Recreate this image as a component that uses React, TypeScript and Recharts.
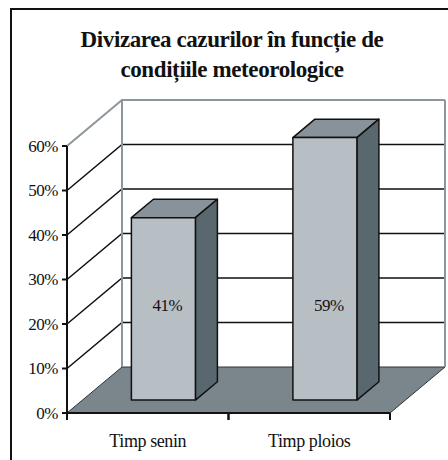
import { BarChart, Bar, XAxis, YAxis, CartesianGrid } from 'recharts';

// date
const categories = ['Timp senin', 'Timp ploios'];
const shares = [0.41, 0.59];
const percentTicks = [0, 0.1, 0.2, 0.3, 0.4, 0.5, 0.6];
const titleLines = ['Divizarea cazurilor în funcție de', 'condițiile meteorologice'];

const data = categories.map((name, i) => ({ name, value: shares[i] }));

const FONT = 'Liberation Serif';
// vectorul de adancime al "cutiei" 3D
const DX = 55;
const DY = -46;
const BAR_FRONT = 0.28;
const BAR_DEPTH = 0.4;

const INK = '#111';
const FACE = '#b7bec4';
const TOP = '#87929a';
const SIDE = '#59686e';
const FLOOR = '#7a868c';
const WALL_EDGE = '#8c979d';

const pct = (v: number) => `${Math.round(v * 100)}%`;

function GridLine(props: any) {
  const { x1, y1, x2, horizontalPoints } = props;
  const top = props.y ?? Math.min(...horizontalPoints);
  const bottom = props.height != null ? props.y + props.height : Math.max(...horizontalPoints);

  if (Math.abs(y1 - bottom) < 0.5) {
    return (
      <polygon
        points={`${x1},${y1} ${x2},${y1} ${x2 + DX},${y1 + DY} ${x1 + DX},${y1 + DY}`}
        fill={FLOOR}
        stroke="#2f3538"
        strokeWidth={1}
      />
    );
  }
  const isTop = Math.abs(y1 - top) < 0.5;
  const color = isTop ? WALL_EDGE : INK;
  return (
    <g>
      {isTop && (
        <>
          <line x1={x1 + DX} y1={y1 + DY} x2={x1 + DX} y2={bottom + DY} stroke={WALL_EDGE} strokeWidth={2} />
          <line x1={x2 + DX} y1={y1 + DY} x2={x2 + DX} y2={bottom + DY} stroke={WALL_EDGE} strokeWidth={2} />
        </>
      )}
      <polyline
        points={`${x1},${y1} ${x1 + DX},${y1 + DY} ${x2 + DX},${y1 + DY}`}
        fill="none"
        stroke={color}
        strokeWidth={isTop ? 2 : 1.5}
      />
    </g>
  );
}

function Box(props: any) {
  const { x, y, width, height, payload } = props;
  const fx = x + DX * BAR_FRONT;
  const fy = y + DY * BAR_FRONT;
  const bx = DX * BAR_DEPTH;
  const by = DY * BAR_DEPTH;
  const r = fx + width;
  const b = fy + height;
  return (
    <g>
      <g stroke={INK} strokeWidth={1.5} strokeLinejoin="round">
        <polygon points={`${fx},${fy} ${r},${fy} ${r + bx},${fy + by} ${fx + bx},${fy + by}`} fill={TOP} />
        <polygon points={`${r},${fy} ${r + bx},${fy + by} ${r + bx},${b + by} ${r},${b}`} fill={SIDE} />
        <rect x={fx} y={fy} width={width} height={height} fill={FACE} />
      </g>
      <text
        x={fx + width / 2 + 4}
        y={b - 95}
        textAnchor="middle"
        dominantBaseline="central"
        fontFamily={FONT}
        fontSize={17}
        letterSpacing={-0.5}
        fill={INK}
      >
        {pct(payload.value)}
      </text>
    </g>
  );
}

function CategoryTick(props: any) {
  const { x, y, payload, width, visibleTicksCount } = props;
  const half = payload.offset || width / visibleTicksCount / 2;
  return (
    <g>
      <line x1={x - half} y1={y} x2={x - half} y2={y + 7} stroke={INK} strokeWidth={2} />
      <line x1={x + half} y1={y} x2={x + half} y2={y + 7} stroke={INK} strokeWidth={2} />
      <text x={x} y={y + 34} textAnchor="middle" fontFamily={FONT} fontSize={18} letterSpacing={-0.4} fill={INK}>
        {payload.value}
      </text>
    </g>
  );
}

function PercentTick(props: any) {
  const { x, y, payload } = props;
  return (
    <text x={x} y={y} dy="0.35em" textAnchor="end" fontFamily={FONT} fontSize={17} letterSpacing={-0.5} fill={INK}>
      {pct(payload.value)}
    </text>
  );
}

export default function App() {
  return (
    <div style={{ position: 'absolute', left: 0, top: 0, width: 448, height: 460, overflow: 'hidden', background: '#fff' }}>
      <BarChart
        width={448}
        height={460}
        data={data}
        margin={{ top: 146, right: 58, bottom: 0, left: 10 }}
        barSize={64}
      >
        <CartesianGrid horizontal={GridLine} vertical={false} />
        <XAxis
          dataKey="name"
          height={47}
          interval={0}
          tickLine={false}
          tickSize={0}
          tickMargin={0}
          axisLine={{ stroke: INK, strokeWidth: 2 }}
          tick={<CategoryTick />}
        />
        <YAxis
          domain={[0, 0.6]}
          ticks={percentTicks}
          interval={0}
          width={57}
          tickSize={5}
          tickMargin={4}
          axisLine={{ stroke: INK, strokeWidth: 2 }}
          tickLine={{ stroke: INK, strokeWidth: 2 }}
          tick={<PercentTick />}
        />
        <Bar dataKey="value" shape={<Box />} isAnimationActive={false} />
      </BarChart>
      <svg width={448} height={460} style={{ position: 'absolute', left: 0, top: 0, pointerEvents: 'none' }}>
        <path d="M11,460 L11,9 L448,9" fill="none" stroke={INK} strokeWidth={2} />
        {titleLines.map((line, i) => (
          <text
            key={i}
            x={232}
            y={47 + i * 30}
            textAnchor="middle"
            fontFamily={FONT}
            fontWeight="bold"
            fontSize={23}
            letterSpacing={-0.4}
            fill={INK}
          >
            {line}
          </text>
        ))}
      </svg>
    </div>
  );
}
